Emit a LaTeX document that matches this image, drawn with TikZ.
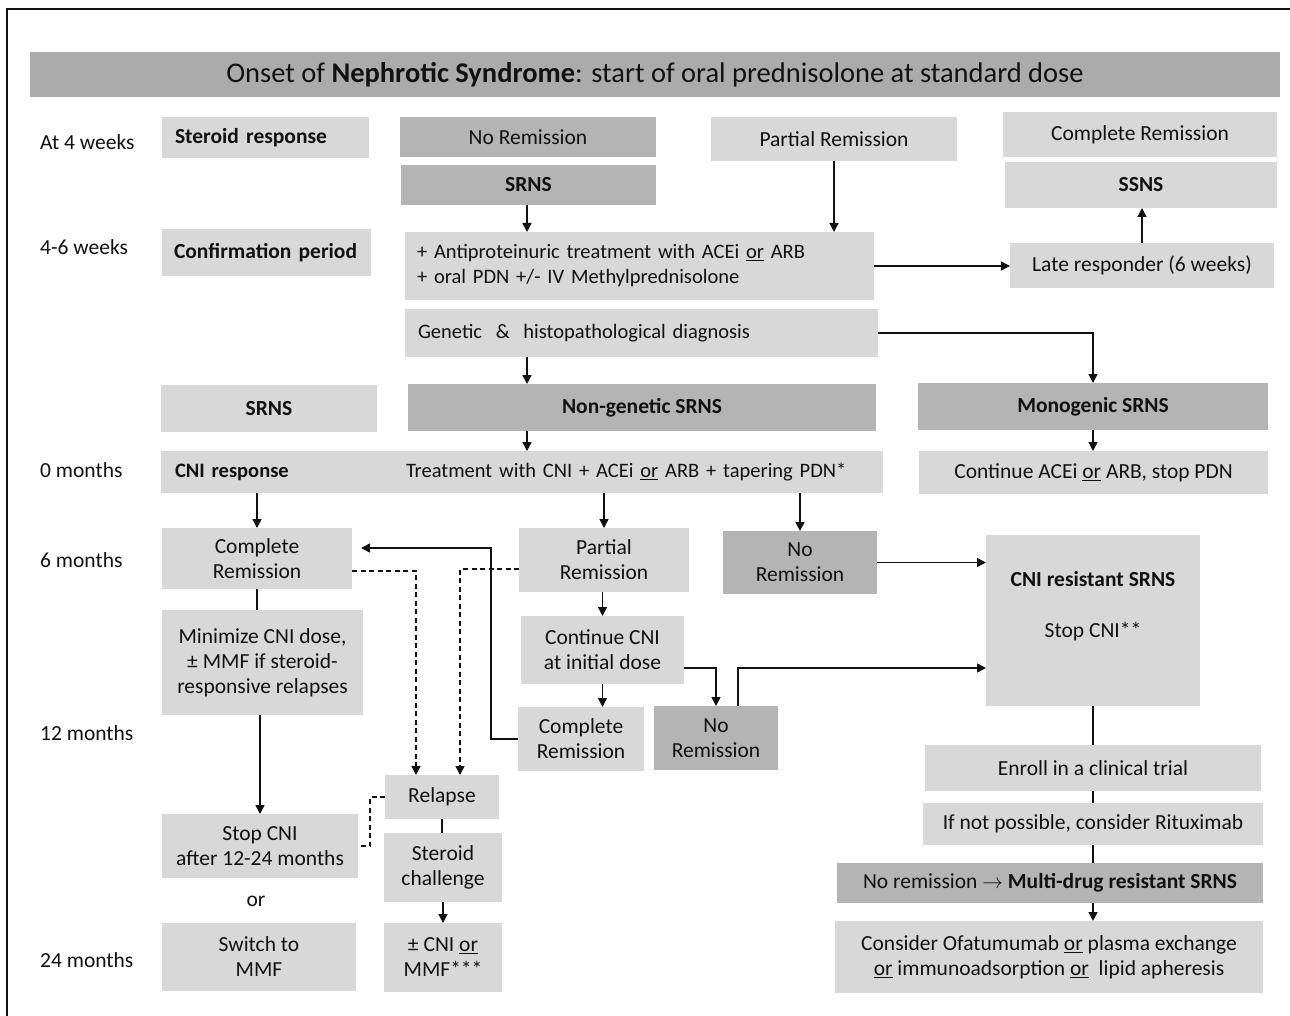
\documentclass[tikz,border=0pt]{standalone}
\usepackage{fontspec}
\setmainfont{Carlito}
\usetikzlibrary{arrows.meta}
\definecolor{lightbox}{HTML}{D8D8D8}
\definecolor{darkbox}{HTML}{B4B4B4}
\definecolor{titlebox}{HTML}{ABABAB}
\definecolor{ink}{HTML}{111111}
\tikzset{
  box/.style={draw=none,fill=lightbox,inner sep=0pt,outer sep=0pt,align=center,text=ink,
    font=\fontsize{21.5}{25}\selectfont},
  smallfont/.style={font=\fontsize{20.5}{25}\selectfont},
  dk/.style={fill=darkbox},
  rowlab/.style={anchor=west,inner sep=0pt,text=ink,font=\fontsize{21.5}{25}\selectfont},
  conn/.style={line width=1.4pt,draw=ink},
  arr/.style={conn,-{Triangle[length=9pt,width=9pt]}},
  dsh/.style={conn,dash pattern=on 5pt off 3.5pt},
}
\newcommand\bx[7]{\node[box,minimum width={(#4-#2)*1pt},minimum height={(#5-#3)*1pt},#6] (#1) at ({(#2+#4)/2},{(#3+#5)/2}) {#7};}
% left-aligned: full-width text box, indent given by \hspace* in the text
\newcommand\bxl[7]{\node[box,minimum width={(#4-#2)*1pt},minimum height={(#5-#3)*1pt},text width={(#4-#2)*1pt},align=left,inner xsep=0pt,#6] (#1) at ({(#2+#4)/2},{(#3+#5)/2}) {#7};}
\begin{document}
\begin{tikzpicture}[x=1pt,y=-1pt]
\useasboundingbox (0,0) rectangle (1290,1016);
\fill[white] (0,0) rectangle (1290,1016);
\draw[line width=1.6pt,draw=ink] (7,1016) -- (7,9) -- (1290,9);

% title
\bx{title}{30}{52}{1280}{97}{fill=titlebox,font=\fontsize{28.5}{32}\selectfont}{Onset of \textbf{Nephrotic Syndrome}: start of oral prednisolone at standard dose}

% row labels
\node[rowlab] (l1) at (40,142) {At 4 weeks};
\node[rowlab] (l2) at (40,247) {4-6 weeks};
\node[rowlab] (l3) at (40,470) {0 months};
\node[rowlab] (l4) at (40,560) {6 months};
\node[rowlab] (l5) at (40,733) {12 months};
\node[rowlab] (l6) at (40,960) {24 months};

% top rows
\bxl{steroid}{162}{117}{369}{158}{}{\hspace*{13pt}\textbf{Steroid response}}
\bx{nrA}{400}{117}{656}{157}{dk}{No Remission}
\bx{prA}{711}{117}{957}{161}{}{Partial Remission}
\bx{crA}{1003}{112}{1277}{157}{}{Complete Remission}
\bx{srnsA}{401}{165}{656}{205}{dk}{\textbf{SRNS}}
\bx{ssns}{1005}{162}{1277}{208}{}{\textbf{SSNS}}
\bxl{confirm}{162}{229}{371}{276}{}{\hspace*{12pt}\textbf{Confirmation period}}
\bxl{antip}{405}{232}{874}{300}{smallfont}{\hspace*{12pt}+ Antiproteinuric treatment with ACEi \underline{or} ARB\\\hspace*{12pt}+ oral PDN +/- IV Methylprednisolone}
\bx{late}{1010}{243}{1274}{288}{}{Late responder (6 weeks)}
\bxl{gen}{405}{309}{878}{357}{smallfont}{\hspace*{13pt}Genetic \ \& \ histopathological diagnosis}
\bx{srnsB}{161}{385}{377}{432}{}{\textbf{SRNS}}
\bx{nongen}{408}{384}{876}{431}{dk}{\textbf{Non-genetic SRNS}}
\bx{mono}{918}{383}{1268}{430}{dk}{\textbf{Monogenic SRNS}}
\bxl{treat}{161}{451}{883}{493}{smallfont}{\hspace*{14pt}\makebox[231pt][l]{\textbf{CNI response}}Treatment with CNI + ACEi \underline{or} ARB + tapering PDN*}
\bx{contace}{919}{451}{1268}{494}{}{Continue ACEi \underline{or} ARB, stop PDN}

% 6 months
\bx{crB}{162}{528}{352}{589}{}{Complete\\Remission}
\bx{prB}{519}{528}{689}{592}{}{Partial\\Remission}
\bx{nrB}{723}{531}{877}{594}{dk}{No\\Remission}
\bx{cnires}{986}{535}{1200}{706}{}{\textbf{CNI resistant SRNS}\\[26pt]Stop CNI**\\\strut}
\bx{mini}{162}{610}{363}{715}{}{Minimize CNI dose,\\± MMF if steroid-\\responsive relapses}
\bx{contcni}{521}{616}{684}{684}{}{Continue CNI\\at initial dose}
\bx{crC}{518}{707}{644}{771}{}{Complete\\Remission}
\bx{nrC}{654}{706}{778}{770}{dk}{No\\Remission}

% right column
\bx{enroll}{925}{745}{1261}{791}{}{Enroll in a clinical trial}
\bx{ifnot}{923}{803}{1263}{845}{}{If not possible, consider Rituximab}
\bx{multi}{837}{863}{1263}{903}{dk}{No remission $\rightarrow$ \textbf{Multi-drug resistant SRNS}}
\bx{consider}{835}{921}{1263}{993}{}{Consider Ofatumumab \underline{or} plasma exchange\\\underline{or} immunoadsorption \underline{or} \ lipid apheresis}

% bottom left
\bx{relapse}{385}{775}{499}{819}{}{Relapse}
\bx{chall}{384}{833}{502}{902}{}{Steroid\\challenge}
\bx{cnimmf}{384}{923}{502}{992}{}{± CNI \underline{or}\\MMF***}
\bx{stopcni}{162}{814}{358}{878}{}{Stop CNI\\after 12-24 months}
\node[box,fill=none] (ortxt) at (256,901) {or};
\bx{switch}{162}{923}{356}{991}{}{Switch to\\MMF}

% helper coordinates
\coordinate (x527) at (527,0);
\coordinate (x370) at (370,0);
\coordinate (x416) at (416,0);
\coordinate (x460) at (460,0);
\coordinate (x491) at (491,0);
\coordinate (x738) at (738,0);
\coordinate (y548) at (0,548);
\coordinate (y571) at (0,571);
\coordinate (y569) at (0,569);
\coordinate (y668) at (0,668);
\coordinate (y846) at (0,846);

% connectors
\draw[arr] (srnsA.south -| x527) -- (antip.north -| x527);
\draw[arr] (prA.south) -- (prA.south |- antip.north);
\draw[arr] (antip.east) -- (antip.east -| late.west);
\draw[arr] (late.north) -- (late.north |- ssns.south);
\draw[arr] (gen.south -| x527) -- (nongen.north -| x527);
\draw[arr] (gen.east) -| (mono.north);
\draw[arr] (nongen.south -| x527) -- (treat.north -| x527);
\draw[arr] (mono.south) -- (mono.south |- contace.north);
\draw[arr] (crB.north |- treat.south) -- (crB.north);
\draw[arr] (prB.north |- treat.south) -- (prB.north);
\draw[arr] (nrB.north |- treat.south) -- (nrB.north);
\draw[arr] (nrB.east) -- (nrB.east -| cnires.west);
\draw[conn] (crB.south) -- (crB.south |- mini.north);
\draw[arr] (stopcni.north |- mini.south) -- (stopcni.north);
\draw[arr] (contcni.north |- prB.south) -- (contcni.north);
\draw[arr] (contcni.south) -- (contcni.south |- crC.north);
\draw[arr] (contcni.east |- y668) -| (nrC.north);
\draw[arr] (nrC.north -| x738) |- (cnires.west |- y668);
\draw[arr,shorten >=9pt] (crC.west) -| (x491 |- y548) -- (crB.east |- y548);
\draw[dsh,-{Triangle[length=9pt,width=9pt]}] (crB.east |- y571) -| (relapse.north -| x416);
\draw[dsh,-{Triangle[length=9pt,width=9pt]}] (prB.west |- y569) -| (relapse.north -| x460);
\draw[dsh] (relapse.west) -- (relapse.west -| x370) |- (stopcni.east |- y846);
\draw[conn] (relapse.south) -- (relapse.south |- chall.north);
\draw[arr] (chall.south) -- (chall.south |- cnimmf.north);
\draw[conn] (cnires.south) -- (cnires.south |- enroll.north);
\draw[conn] (enroll.south) -- (enroll.south |- ifnot.north);
\draw[conn] (ifnot.south) -- (ifnot.south |- multi.north);
\draw[arr] (ifnot.south |- multi.south) -- (ifnot.south |- consider.north);
\end{tikzpicture}
\end{document}
